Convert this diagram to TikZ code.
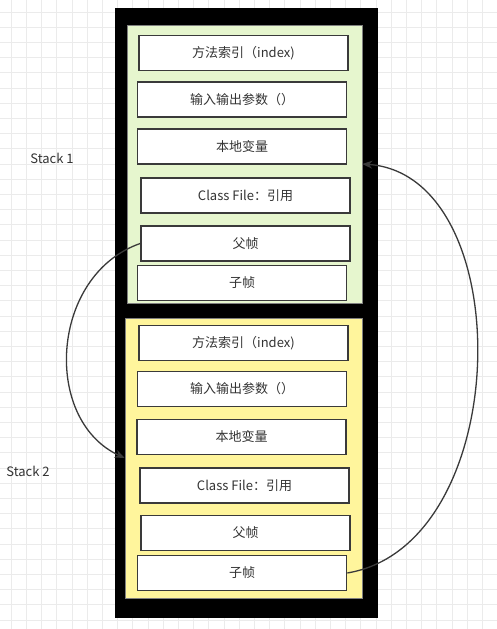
\documentclass[tikz,border=0pt]{standalone}
\usepackage{fontspec}
\newfontfamily\cjk{Noto Sans CJK SC}
\definecolor{gridgray}{HTML}{EBEBEB}
\definecolor{framegreen}{HTML}{E6F6CE}
\definecolor{frameyellow}{HTML}{FFF59C}
\definecolor{textgray}{HTML}{333333}
\definecolor{linegray}{HTML}{3A3A3A}
\usetikzlibrary{arrows.meta}

\begin{document}
\begin{tikzpicture}

\tikzset{SlotStyle/.style = {draw = linegray, fill = white, line width = 1.6pt,
                             minimum width = 209pt, minimum height = 35pt,
                             inner sep = 0pt, font = \cjk\fontsize{13}{15}\selectfont,
                             text = textgray},
         FrameStyle/.style = {draw = gray, line width = .6pt, inner sep = 0pt},
         LabelStyle/.style = {font = \cjk\fontsize{13}{15}\selectfont, text = textgray},
         LinkStyle/.style  = {draw = linegray, line width = 1.3pt,
                              -{Stealth[length=10pt,width=8pt]}}}

\useasboundingbox (0pt,0pt) rectangle (497pt,629pt);
\fill[white] (0pt,0pt) rectangle (497pt,629pt);

\foreach \gx in {0,...,32}
  \draw[gridgray, line width = .6pt] (11pt+\gx*15.2pt,0pt) -- (11pt+\gx*15.2pt,629pt);
\foreach \gy in {0,...,41}
  \draw[gridgray, line width = .6pt] (0pt,617pt-\gy*15.2pt) -- (497pt,617pt-\gy*15.2pt);

\node[fill = black, minimum width = 263pt, minimum height = 610pt, inner sep = 0pt] (jvm) at (246.5pt,316pt) {};

\node[FrameStyle, fill = framegreen, minimum width = 235pt, minimum height = 278pt] (stack1) at (244.5pt,465pt) {};
\node[FrameStyle, fill = frameyellow, minimum width = 237pt, minimum height = 280pt] (stack2) at (243.5pt,171pt) {};

\node[SlotStyle] (index1)  at (243.5pt,576pt)   {方法索引（index)};
\node[SlotStyle] (param1)  at (242pt,529.5pt)   {输入输出参数（）};
\node[SlotStyle] (local1)  at (242pt,482.5pt)   {本地变量};
\node[SlotStyle] (class1)  at (245.5pt,433.5pt) {Class File：引用};
\node[SlotStyle] (parent1) at (245.5pt,385.5pt) {父帧};
\node[SlotStyle] (child1)  at (242pt,346pt)     {子帧};

\node[SlotStyle] (index2)  at (243.5pt,286pt)   {方法索引（index)};
\node[SlotStyle] (param2)  at (242pt,240pt)     {输入输出参数（）};
\node[SlotStyle] (local2)  at (241.5pt,192pt)   {本地变量};
\node[SlotStyle] (class2)  at (244.5pt,143.5pt) {Class File：引用};
\node[SlotStyle] (parent2) at (245.5pt,96pt)    {父帧};
\node[SlotStyle] (child2)  at (242pt,56pt)      {子帧};

\node[LabelStyle] (name1) at (52pt,471pt) {Stack 1};
\node[LabelStyle] (name2) at (28pt,158pt) {Stack 2};

\draw[LinkStyle] (parent1.west) .. controls (50pt,354pt) and (42pt,209pt) .. (stack2.west);
\draw[LinkStyle] (child2.east) .. controls (515pt,84pt) and (520pt,454pt) .. (stack1.east);

\end{tikzpicture}
\end{document}
